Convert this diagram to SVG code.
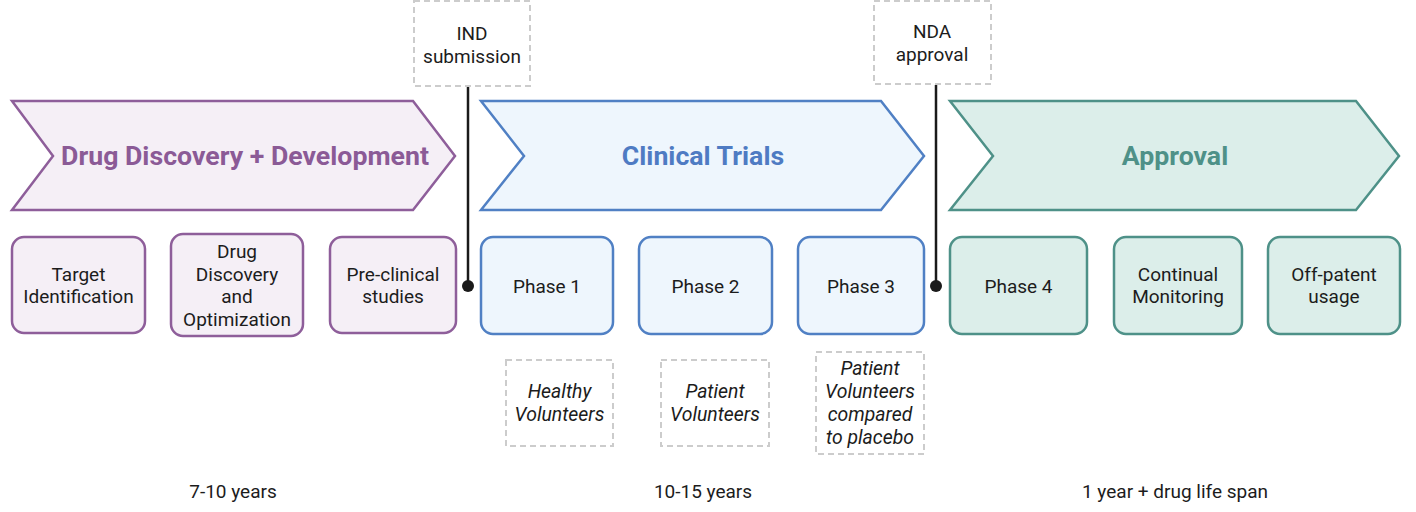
<svg xmlns="http://www.w3.org/2000/svg" width="1416" height="512" viewBox="0 0 1416 512">
<style>
text{font-family:Roboto,"Liberation Sans",sans-serif;text-anchor:middle;fill:#1c1c1c}
.t{font-size:19px}
.h{font-size:26.7px;font-weight:bold}
.i{font-size:19.4px;font-style:italic}
.pu{fill:#F5EFF6;stroke:#8E5E9A;stroke-width:2.5}
.bl{fill:#EEF6FD;stroke:#5080C4;stroke-width:2.5}
.te{fill:#DCEEEA;stroke:#4E9188;stroke-width:2.5}
.d{fill:#fff;stroke:#CCCCCC;stroke-width:2;stroke-dasharray:6 4}
.ln{stroke:#1a1a1a;stroke-width:2.5;fill:none}
</style>
<rect width="1416" height="512" fill="#fff"/>
<g id="stage-discovery">
<path class="pu" d="M12,101 L413,101 L455,156 L413,210 L12,210 L53,156 Z"/>
<text class="h" x="245" y="165" style="fill:#8B5A96">Drug Discovery + Development</text>
</g>
<g id="stage-clinical">
<path class="bl" d="M481,101 L881,101 L924,156 L881,210 L481,210 L524,156 Z"/>
<text class="h" x="703" y="165" style="fill:#4E7BC3">Clinical Trials</text>
</g>
<g id="stage-approval">
<path class="te" d="M950,101 L1356,101 L1399,156 L1356,210 L950,210 L993,156 Z"/>
<text class="h" x="1175" y="165" style="fill:#4E9188">Approval</text>
</g>
<g id="target-identification">
<rect class="pu" x="12" y="237" width="133" height="96" rx="12"/>
<text class="t" x="78.5" y="281">Target</text>
<text class="t" x="78.5" y="303">Identification</text>
</g>
<g id="drug-discovery-optimization">
<rect class="pu" x="171" y="234" width="132" height="102" rx="12"/>
<text class="t" x="237" y="258">Drug</text>
<text class="t" x="237" y="281">Discovery</text>
<text class="t" x="237" y="303">and</text>
<text class="t" x="237" y="326">Optimization</text>
</g>
<g id="pre-clinical">
<rect class="pu" x="330" y="237" width="126" height="96" rx="12"/>
<text class="t" x="393" y="281">Pre-clinical</text>
<text class="t" x="393" y="303">studies</text>
</g>
<g id="phase1">
<rect class="bl" x="481" y="237" width="132" height="97" rx="12"/>
<text class="t" x="547" y="293">Phase 1</text>
</g>
<g id="phase2">
<rect class="bl" x="639" y="237" width="133" height="97" rx="12"/>
<text class="t" x="705.5" y="293">Phase 2</text>
</g>
<g id="phase3">
<rect class="bl" x="798" y="237" width="126" height="97" rx="12"/>
<text class="t" x="861" y="293">Phase 3</text>
</g>
<g id="phase4">
<rect class="te" x="950" y="237" width="137" height="97" rx="12"/>
<text class="t" x="1018.5" y="293">Phase 4</text>
</g>
<g id="continual-monitoring">
<rect class="te" x="1114" y="237" width="128" height="97" rx="12"/>
<text class="t" x="1178" y="281">Continual</text>
<text class="t" x="1178" y="303">Monitoring</text>
</g>
<g id="off-patent">
<rect class="te" x="1268" y="237" width="132" height="97" rx="12"/>
<text class="t" x="1334" y="281">Off-patent</text>
<text class="t" x="1334" y="303">usage</text>
</g>
<g id="ind-submission">
<rect class="d" x="414" y="1" width="116" height="85"/>
<text class="t" x="472" y="40">IND</text>
<text class="t" x="472" y="63">submission</text>
</g>
<g id="nda-approval">
<rect class="d" x="874" y="1" width="117" height="83"/>
<text class="t" x="932" y="38">NDA</text>
<text class="t" x="932" y="61">approval</text>
</g>
<g id="healthy-volunteers">
<rect class="d" x="506" y="360" width="107" height="86"/>
<text class="i" x="559.5" y="398">Healthy</text>
<text class="i" x="559.5" y="421">Volunteers</text>
</g>
<g id="patient-volunteers">
<rect class="d" x="661" y="360" width="108" height="86"/>
<text class="i" x="715" y="398">Patient</text>
<text class="i" x="715" y="421">Volunteers</text>
</g>
<g id="patient-placebo">
<rect class="d" x="816" y="352" width="108" height="102"/>
<text class="i" x="870" y="375">Patient</text>
<text class="i" x="870" y="398">Volunteers</text>
<text class="i" x="870" y="421">compared</text>
<text class="i" x="870" y="444">to placebo</text>
</g>
<g id="connectors">
<line class="ln" x1="468" y1="87" x2="468" y2="286"/>
<circle cx="468" cy="286" r="6" fill="#1a1a1a"/>
<line class="ln" x1="936" y1="85" x2="936" y2="286"/>
<circle cx="936" cy="286" r="6" fill="#1a1a1a"/>
</g>
<g id="durations">
<text class="t" x="233" y="498">7-10 years</text>
<text class="t" x="703" y="498">10-15 years</text>
<text class="t" x="1175" y="498">1 year + drug life span</text>
</g>
</svg>
